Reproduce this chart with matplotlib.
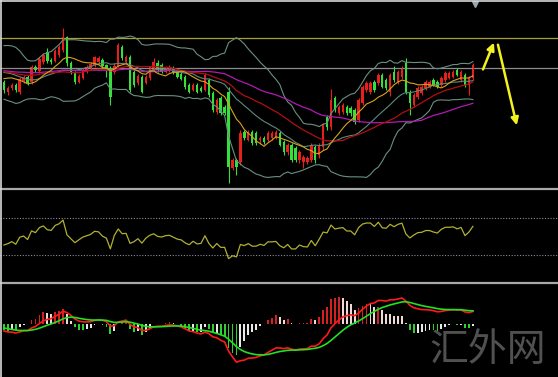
import numpy as np
import pandas as pd
import matplotlib
matplotlib.use("Agg")
import matplotlib.pyplot as plt

# closes before the visible window (only used to warm up the indicators)
hist_close = [118, 121, 125, 122, 119, 116, 120, 124, 127, 123,
              119, 115, 112, 116, 121, 126, 129, 125, 121, 117,
              114, 118, 123, 128, 132, 127, 122, 118, 113, 109,
              108, 114, 122, 130, 138, 142, 136, 127, 118, 109,
              101, 97, 103, 112, 122, 130, 126, 116, 107, 101]

# visible candles (price units)
opens = [108, 98, 102, 105, 98, 109, 113, 108, 123, 119,
         128, 138, 130, 129, 135, 140, 153, 127, 117, 108,
         112, 118, 121, 125, 128, 130, 125, 122, 118, 124,
         143, 128, 133, 118, 107, 113, 107, 112, 120, 127,
         125, 118, 120, 122, 118, 116, 113, 105, 100, 105,
         102, 100, 110, 97, 78, 92, 83, 98, 22, 30,
         28, 58, 50, 58, 57, 50, 52, 50, 52, 52,
         57, 48, 38, 45, 42, 30, 28, 28, 30, 43,
         35, 43, 73, 63, 92, 77, 78, 83, 82, 80,
         70, 87, 100, 98, 108, 107, 115, 110, 98, 118,
         108, 113, 127, 98, 85, 93, 97, 102, 103, 110,
         108, 105, 110, 112, 113, 120, 110, 115, 105, 112]
closes = [100, 102, 105, 100, 111, 113, 107, 123, 120, 131,
          135, 129, 128, 139, 143, 153, 127, 118, 108, 114,
          120, 123, 126, 133, 132, 124, 120, 93, 124, 145,
          132, 133, 100, 105, 114, 98, 113, 123, 128, 120,
          118, 122, 123, 118, 113, 111, 103, 98, 105, 98,
          99, 115, 95, 80, 90, 77, 77, 23, 30, 23,
          57, 52, 58, 47, 47, 52, 48, 57, 57, 58,
          45, 38, 45, 30, 30, 38, 33, 32, 45, 30,
          45, 65, 63, 90, 80, 83, 85, 77, 77, 68,
          90, 103, 107, 107, 100, 115, 103, 102, 115, 110,
          118, 122, 98, 87, 95, 102, 103, 108, 108, 105,
          103, 112, 117, 117, 118, 115, 118, 105, 112, 125]
highs = [110, 104, 107, 107, 113, 115, 115, 125, 125, 133,
         137, 142, 132, 141, 145, 162, 154, 129, 119, 116,
         122, 125, 128, 134, 134, 132, 126, 124, 127, 147,
         145, 135, 135, 120, 116, 115, 115, 124, 132, 130,
         127, 124, 125, 124, 120, 118, 115, 107, 107, 107,
         104, 117, 112, 99, 92, 94, 85, 103, 32, 32,
         60, 60, 60, 60, 59, 54, 54, 59, 59, 60,
         59, 50, 47, 47, 44, 40, 35, 34, 47, 45,
         47, 67, 75, 101, 94, 85, 87, 85, 84, 82,
         92, 105, 109, 109, 110, 117, 117, 112, 117, 124,
         120, 124, 132, 100, 97, 104, 105, 110, 110, 112,
         110, 114, 119, 119, 120, 122, 120, 117, 114, 127]
lows = [97, 95, 100, 98, 96, 107, 105, 106, 118, 117,
        126, 127, 126, 128, 133, 138, 124, 116, 106, 107,
        111, 117, 120, 123, 126, 122, 113, 85, 116, 123,
        130, 127, 98, 103, 105, 97, 106, 110, 119, 118,
        117, 117, 118, 116, 112, 110, 101, 97, 99, 97,
        98, 99, 93, 78, 76, 75, 75, 7, 20, 15,
        25, 50, 49, 45, 45, 46, 46, 48, 50, 51,
        44, 35, 35, 28, 28, 27, 22, 26, 28, 27,
        32, 40, 60, 60, 78, 75, 76, 75, 74, 66,
        68, 85, 98, 96, 98, 105, 102, 100, 94, 108,
        106, 111, 96, 75, 83, 91, 95, 100, 102, 104,
        102, 103, 108, 111, 112, 114, 108, 103, 95, 110]

resistance = 152
pivot = 122
rsi_levels = [70, 30]
arrow_up = [(121.3, 118), (124.6, 150)]
arrow_down = [(125.2, 148), (130.3, 62)]
watermark = "汇外网"

# ---- indicators ----
s = pd.Series(hist_close + closes, dtype=float)
n_hist = len(hist_close)
ma10 = s.rolling(10).mean()
bb_mid = s.rolling(20).mean()
bb_std = s.rolling(20).std(ddof=0)
bb_up = bb_mid + 2 * bb_std
bb_dn = bb_mid - 2 * bb_std
ma30 = s.rolling(30).mean()
ma50 = s.rolling(50).mean()

delta = s.diff()
gain = delta.clip(lower=0).ewm(alpha=1 / 14, adjust=False).mean()
loss = (-delta.clip(upper=0)).ewm(alpha=1 / 14, adjust=False).mean()
rsi = 100 - 100 / (1 + gain / loss)

dif = s.ewm(span=12, adjust=False).mean() - s.ewm(span=26, adjust=False).mean()
dea = dif.ewm(span=9, adjust=False).mean()
macd_h = 2 * (dif - dea)

vis = slice(n_hist, None)
x = np.arange(len(closes))

# ---- figure ----
fig = plt.figure(figsize=(5.58, 3.77), dpi=100, facecolor="black")
W, H = 558, 377


def px_axes(top, bottom):
    return fig.add_axes([0, 1 - bottom / H, 1, (bottom - top) / H])


ax1 = px_axes(2, 187)
ax2 = px_axes(190, 281)
ax3 = px_axes(284, 377)
xl = (-1.0, 140.6)
for a in (ax1, ax2, ax3):
    a.set_facecolor("black")
    a.set_xlim(*xl)
    a.set_xticks([])
    a.set_yticks([])
    for sp in a.spines.values():
        sp.set_visible(False)

# price panel
ax1.set_ylim(3, 188)
ax1.axhline(resistance, color="#a8a030", lw=0.9)
ax1.axhline(pivot, color="#8c8c8c", lw=0.9)
o = np.array(opens); c = np.array(closes)
up = c >= o
col = np.where(up, "#e8201c", "#36e03a")
ax1.vlines(x, lows, highs, colors=col, lw=0.8)
ax1.bar(x, np.maximum(np.abs(c - o), 0.8), bottom=np.minimum(o, c),
        width=0.62, color=col, linewidth=0)
ax1.plot(x, bb_up[vis], color="#6b8f82", lw=0.8)
ax1.plot(x, bb_dn[vis], color="#6b8f82", lw=0.8)
ax1.plot(x, bb_mid[vis], color="#5f8a7a", lw=0.8)
ax1.plot(x, ma50[vis], color="#b21ab2", lw=0.9)
ax1.plot(x, ma30[vis], color="#b01010", lw=0.9)
ax1.plot(x, ma10[vis], color="#d9a21a", lw=0.8)
for a0, a1 in (arrow_up, arrow_down):
    ax1.annotate("", xy=a1, xytext=a0,
                 arrowprops=dict(arrowstyle="-|>", color="#f2f21e", lw=1.8,
                                 mutation_scale=11))
ax1.plot([119.5], [186], marker="v", color="#9aa6b4", ms=5, clip_on=False)

# oscillator panel
ax2.set_ylim(1.9, 100.3)
for lv in rsi_levels:
    ax2.axhline(lv, color="#8a8aa0", lw=0.8, ls=(0, (1, 1.5)))
ax2.plot(x, rsi[vis], color="#b0b030", lw=0.9)

# MACD panel
lo = min(dif[vis].min(), macd_h[vis].min())
scale = -lo / 0.40
ax3.set_ylim(-0.574 * scale * 0.97, (1 - 0.574) * scale)
h = macd_h[vis].values
dh = np.diff(np.concatenate([[h[0]], h]))
hcol = np.where(h >= 0, np.where(dh >= 0, "#d42020", "#f0d8d8"),
                np.where(dh <= 0, "#30d030", "#e8e8e8"))
ax3.bar(x, h, width=0.45, color=hcol, linewidth=0)
ax3.plot(x, dif[vis], color="#ff1a1a", lw=1.2)
ax3.plot(x, dea[vis], color="#22e022", lw=1.2)

# panel separators and frame
for yy in (188.5, 282.5):
    fig.add_artist(plt.Line2D([0, 1], [1 - yy / H] * 2, color="#a8a8a8", lw=1.6))
fig.add_artist(plt.Line2D([0, 1], [1 - 0.5 / H] * 2, color="#d8d8d8", lw=1.2))
fig.add_artist(plt.Line2D([0.5 / W] * 2, [0, 1], color="#d8d8d8", lw=1.2))

fig.text(488 / W, 1 - 350 / H, watermark, color="#5a5a5a", fontsize=28,
         family=["Noto Sans CJK SC", "DejaVu Sans"], ha="center", va="center",
         alpha=0.9)

fig.savefig("out.png", dpi=100, facecolor="black")
